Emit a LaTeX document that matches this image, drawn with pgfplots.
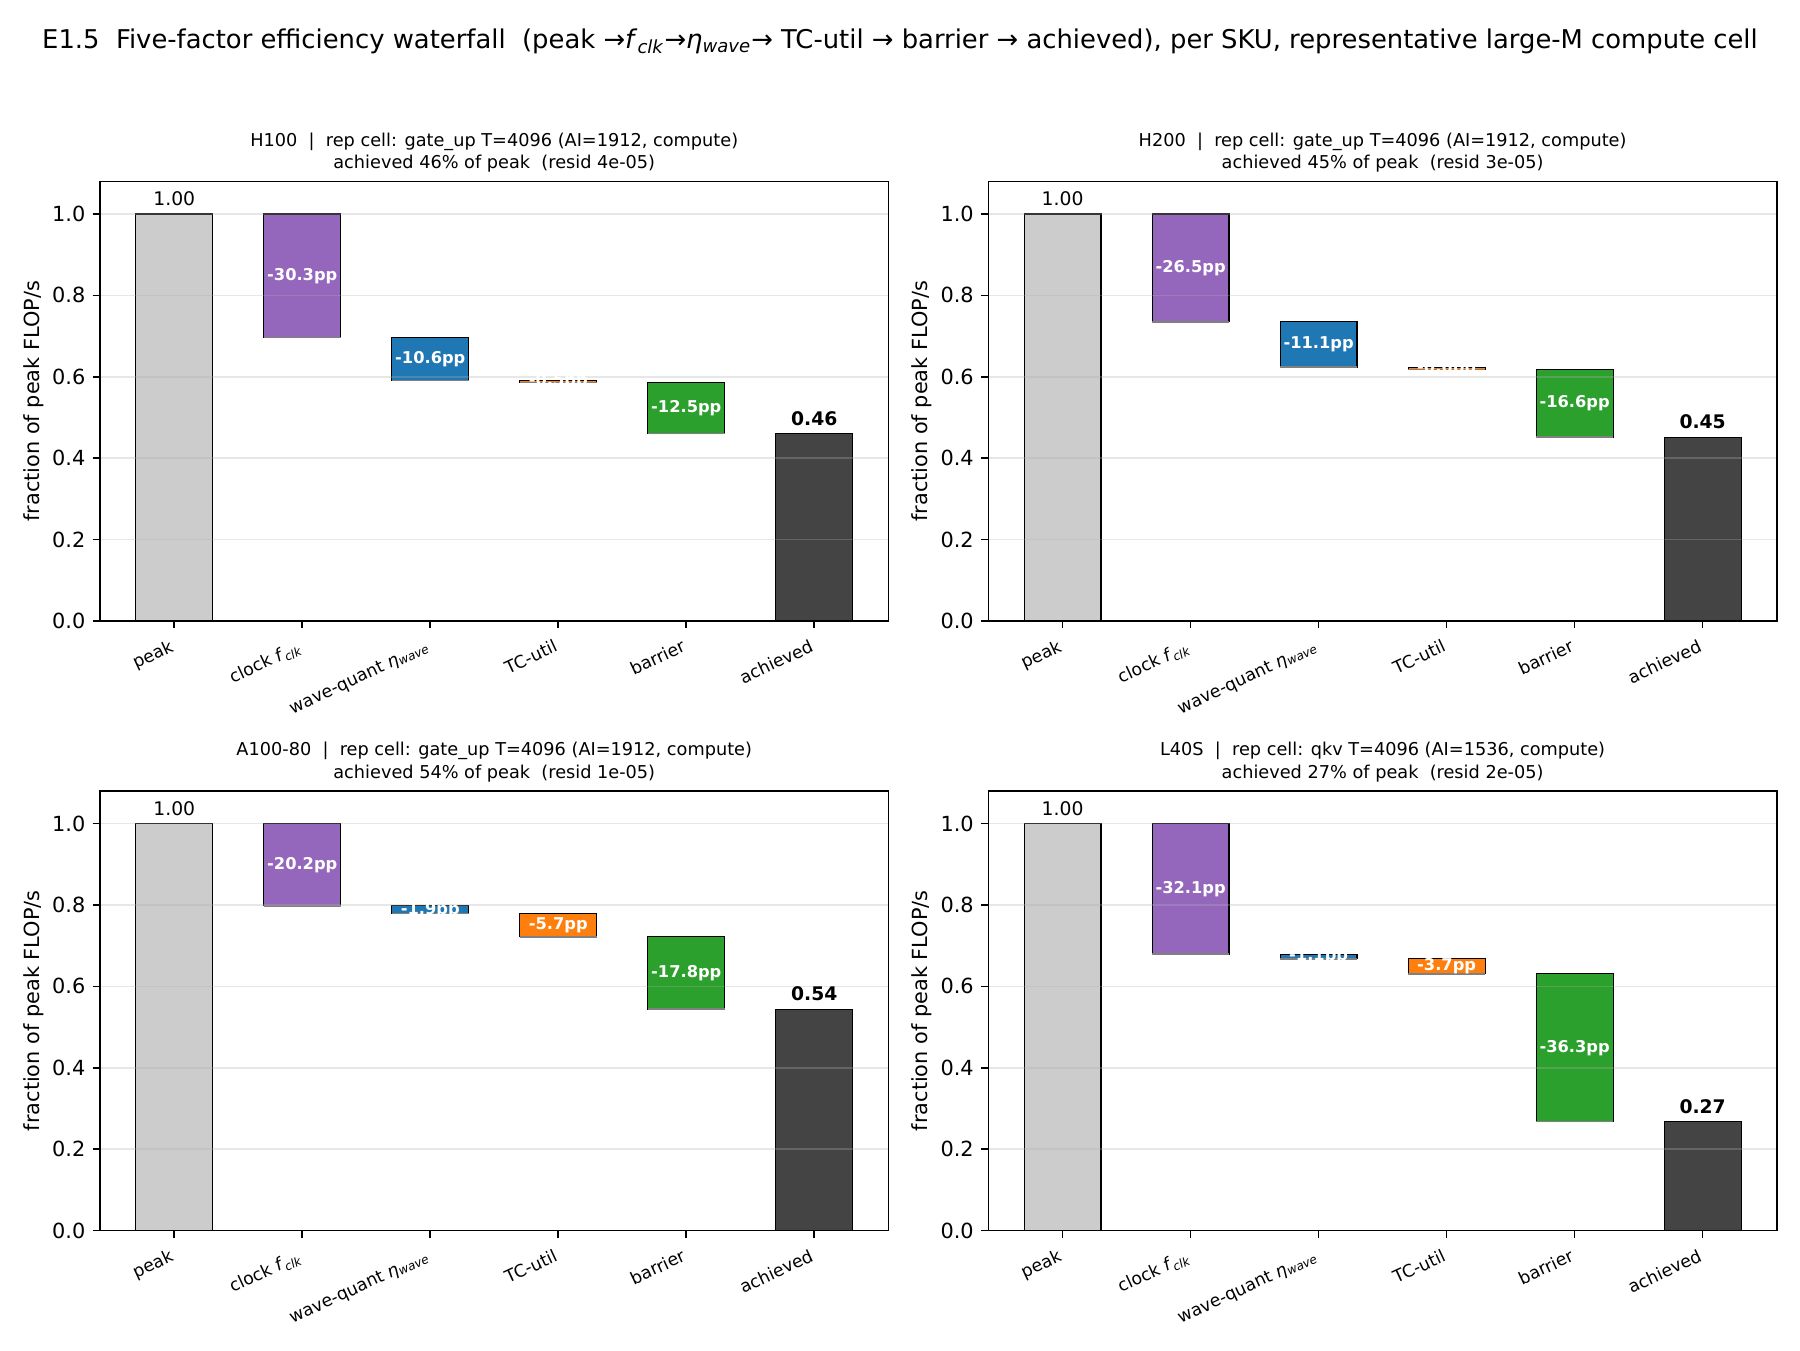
\documentclass[border=0pt]{standalone}
\usepackage{fontspec}
\setmainfont{DejaVu Sans}
\usepackage{pgfplots}
\pgfplotsset{compat=1.18}
\definecolor{cpeak}{HTML}{CCCCCC}
\definecolor{cclk}{HTML}{9467BD}
\definecolor{cwave}{HTML}{1F77B4}
\definecolor{ctc}{HTML}{FF7F0E}
\definecolor{cbar}{HTML}{2CA02C}
\definecolor{cach}{HTML}{444444}
\definecolor{cgrid}{HTML}{B0B0B0}
\newcommand\fs[2]{\fontsize{#1}{#2}\selectfont}
\newcommand\wfbar[5]{%
  \addplot[fill=#5, draw=black, line width=0.5pt] coordinates {(#1,#3) (#2,#3) (#2,#4) (#1,#4)} --cycle;
  \addplot[draw=gray, line width=0.8pt] coordinates {(#1,#3) (#2,#3)};}
\pgfplotsset{wf/.style={
  scale only axis, width=378.5pt, height=211pt, anchor=south west,
  xmin=-0.58, xmax=5.58, ymin=0, ymax=1.08,
  axis on top, ymajorgrids,
  grid style={cgrid, opacity=0.3, line width=0.8pt},
  axis line style={line width=0.8pt},
  tick style={black, line width=0.8pt},
  major tick length=3.5pt, tick align=outside,
  xtick pos=bottom, ytick pos=left,
  xtick={0,1,2,3,4,5},
  xticklabels={peak, clock \textit{f}\textsubscript{\textit{clk}}, wave-quant \textit{η}\textsubscript{\textit{wave}}, TC-util, barrier, achieved},
  xticklabel style={font=\fs{8.3}{10}, rotate=25, anchor=north east, xshift=-1pt},
  ytick={0,0.2,0.4,0.6,0.8,1.0},
  yticklabel style={font=\fs{10}{12}, /pgf/number format/.cd, fixed, precision=1, zerofill, assume math mode=true},
  ylabel={fraction of peak FLOP/s},
  every axis y label/.style={at={([xshift=-31.8pt]axis description cs:0,0.5)}, rotate=90, anchor=center, font=\fs{10}{12}},
  title style={at={(axis description cs:0.5,1)}, anchor=south, yshift=-5.3pt, align=center, font=\fs{8.5}{11}},
  clip=false,
}}
\pgfplotsset{
  inlab/.style={only marks, mark=none, nodes near coords, point meta=explicit symbolic,
    nodes near coords style={white, anchor=center, font=\fs{7.8}{9}\bfseries}},
  toplab/.style={only marks, mark=none, nodes near coords, point meta=explicit symbolic,
    nodes near coords style={black, anchor=south, yshift=0.3pt, font=\fs{9}{11}}},
  achlab/.style={only marks, mark=none, nodes near coords, point meta=explicit symbolic,
    nodes near coords style={black, anchor=south, yshift=0.3pt, font=\fs{9}{11}\bfseries}},
}
\begin{document}
\begin{tikzpicture}
\useasboundingbox (0,0) rectangle (864pt,648pt);
\node[font=\fs{12.4}{14}] at (432pt,628pt) {E1.5~~Five-factor efficiency waterfall~~(peak →\textit{f}\textsubscript{\textit{clk}}→\textit{η}\textsubscript{\textit{wave}}→ TC-util → barrier → achieved), per SKU, representative large-M compute cell};

% H100
\begin{axis}[wf, at={(48pt,349.9pt)},
  title={H100~~|~~rep cell: gate\_up T=4096 (AI=1912, compute)\\achieved 46\% of peak~~(resid 4e-05)}]
\wfbar{-0.3}{0.3}{0}{1.0}{cpeak}
\wfbar{0.7}{1.3}{0.697}{1.0}{cclk}
\wfbar{1.7}{2.3}{0.591}{0.697}{cwave}
\wfbar{2.7}{3.3}{0.586}{0.591}{ctc}
\wfbar{3.7}{4.3}{0.461}{0.586}{cbar}
\wfbar{4.7}{5.3}{0}{0.461}{cach}
\addplot[inlab] table[meta=lab, row sep=\\] {x y lab\\ 1 0.8485 -30.3pp\\ 2 0.644 -10.6pp\\ 3 0.5885 -0.5pp\\ 4 0.5235 -12.5pp\\};
\addplot[toplab] table[meta=lab, row sep=\\] {x y lab\\ 0 1.0 1.00\\};
\addplot[achlab] table[meta=lab, row sep=\\] {x y lab\\ 5 0.461 0.46\\};
\end{axis}

% H200
\begin{axis}[wf, at={(474.4pt,349.9pt)},
  title={H200~~|~~rep cell: gate\_up T=4096 (AI=1912, compute)\\achieved 45\% of peak~~(resid 3e-05)}]
\wfbar{-0.3}{0.3}{0}{1.0}{cpeak}
\wfbar{0.7}{1.3}{0.735}{1.0}{cclk}
\wfbar{1.7}{2.3}{0.624}{0.735}{cwave}
\wfbar{2.7}{3.3}{0.618}{0.624}{ctc}
\wfbar{3.7}{4.3}{0.452}{0.618}{cbar}
\wfbar{4.7}{5.3}{0}{0.452}{cach}
\addplot[inlab] table[meta=lab, row sep=\\] {x y lab\\ 1 0.8675 -26.5pp\\ 2 0.6795 -11.1pp\\ 3 0.621 -0.6pp\\ 4 0.535 -16.6pp\\};
\addplot[toplab] table[meta=lab, row sep=\\] {x y lab\\ 0 1.0 1.00\\};
\addplot[achlab] table[meta=lab, row sep=\\] {x y lab\\ 5 0.452 0.45\\};
\end{axis}

% A100-80
\begin{axis}[wf, at={(48pt,57.3pt)},
  title={A100-80~~|~~rep cell: gate\_up T=4096 (AI=1912, compute)\\achieved 54\% of peak~~(resid 1e-05)}]
\wfbar{-0.3}{0.3}{0}{1.0}{cpeak}
\wfbar{0.7}{1.3}{0.798}{1.0}{cclk}
\wfbar{1.7}{2.3}{0.779}{0.798}{cwave}
\wfbar{2.7}{3.3}{0.722}{0.779}{ctc}
\wfbar{3.7}{4.3}{0.544}{0.722}{cbar}
\wfbar{4.7}{5.3}{0}{0.544}{cach}
\addplot[inlab] table[meta=lab, row sep=\\] {x y lab\\ 1 0.899 -20.2pp\\ 2 0.7885 -1.9pp\\ 3 0.7505 -5.7pp\\ 4 0.633 -17.8pp\\};
\addplot[toplab] table[meta=lab, row sep=\\] {x y lab\\ 0 1.0 1.00\\};
\addplot[achlab] table[meta=lab, row sep=\\] {x y lab\\ 5 0.544 0.54\\};
\end{axis}

% L40S
\begin{axis}[wf, at={(474.4pt,57.3pt)},
  title={L40S~~|~~rep cell: qkv T=4096 (AI=1536, compute)\\achieved 27\% of peak~~(resid 2e-05)}]
\wfbar{-0.3}{0.3}{0}{1.0}{cpeak}
\wfbar{0.7}{1.3}{0.679}{1.0}{cclk}
\wfbar{1.7}{2.3}{0.668}{0.679}{cwave}
\wfbar{2.7}{3.3}{0.631}{0.668}{ctc}
\wfbar{3.7}{4.3}{0.268}{0.631}{cbar}
\wfbar{4.7}{5.3}{0}{0.268}{cach}
\addplot[inlab] table[meta=lab, row sep=\\] {x y lab\\ 1 0.8395 -32.1pp\\ 2 0.6735 -1.1pp\\ 3 0.6495 -3.7pp\\ 4 0.4495 -36.3pp\\};
\addplot[toplab] table[meta=lab, row sep=\\] {x y lab\\ 0 1.0 1.00\\};
\addplot[achlab] table[meta=lab, row sep=\\] {x y lab\\ 5 0.268 0.27\\};
\end{axis}
\end{tikzpicture}
\end{document}
